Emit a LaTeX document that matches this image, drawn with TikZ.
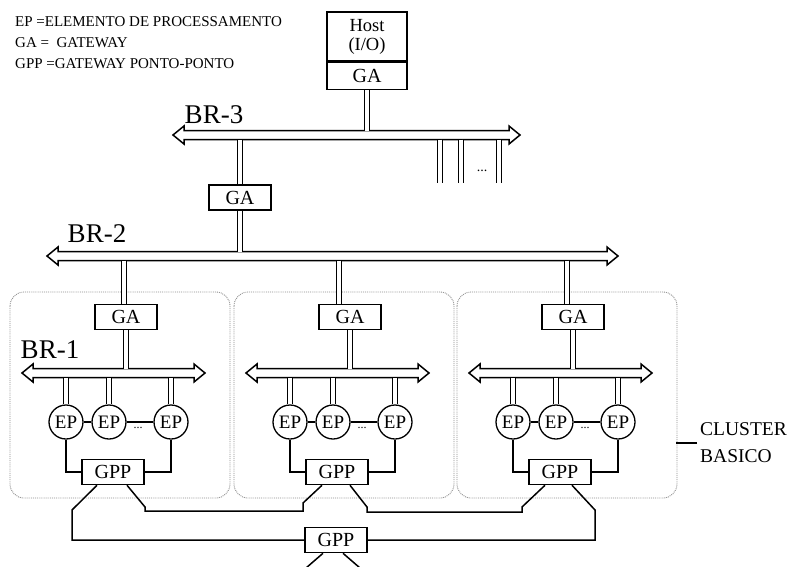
\documentclass[tikz,border=0pt]{standalone}
\usepackage{fontspec}
\setmainfont{Liberation Serif}
\usetikzlibrary{positioning}
% horizontal bus with an open arrowhead at both ends: {x left}{x right}{y}
\newcommand{\busbar}[3]{\draw[bar] (#1,#3) -- ({#1+11},{#3-9}) -- ({#1+11},{#3-4.5}) -- ({#2-11},{#3-4.5}) -- ({#2-11},{#3-9}) -- (#2,#3)
  -- ({#2-11},{#3+9}) -- ({#2-11},{#3+4.5}) -- ({#1+11},{#3+4.5}) -- ({#1+11},{#3+9}) -- cycle;}

\begin{document}
\begin{tikzpicture}[x=1pt,y=-1pt,
  bx/.style={rectangle,draw,line width=1.5pt,minimum width=62pt,minimum height=25pt,inner sep=0pt,font=\fontsize{20}{20}\selectfont},
  ep/.style={circle,draw,line width=1.3pt,minimum size=34pt,inner sep=0pt,font=\fontsize{19}{19}\selectfont},
  link/.style={draw,double,line width=1.3pt,double distance=3.2pt},
  wire/.style={draw,line width=1.5pt},
  bar/.style={line width=1.5pt,line join=miter},
  clu/.style={draw=black!45,densely dotted,line width=0.9pt,rounded corners=14pt},
  lbl/.style={font=\fontsize{27}{27}\selectfont,inner sep=0pt},
  leg/.style={anchor=base west,inner sep=0pt,font=\fontsize{15}{15}\selectfont}]
  \useasboundingbox (0,0) rectangle (790,566);
  % legend
  \node[leg] (leg1) at (15,26) {EP =ELEMENTO DE PROCESSAMENTO};
  \node[leg] (leg2) at (15,47) {GA =\ \ GATEWAY};
  \node[leg] (leg3) at (15,68) {GPP =GATEWAY PONTO-PONTO};
  % host
  \node[bx,minimum width=80pt,minimum height=49pt,align=center,font=\fontsize{18.5}{19}\selectfont] (host) at (367,36.5) {Host\\(I/O)};
  \node[bx,minimum width=80pt,minimum height=27pt,below=0pt of host] (hga) {GA};
  % buses
  \coordinate (br3t) at (0,130.5);
  \coordinate (br3b) at (0,139.5);
  \coordinate (br2t) at (0,251.5);
  \coordinate (br1t) at (0,368.5);
  \coordinate (br1b) at (0,377.5);
  \busbar{173}{520}{135}
  \busbar{47}{618}{256}
  \node[lbl] (br3) at (214,115) {BR-3};
  \node[lbl] (br2) at (97,234) {BR-2};
  \node[lbl] (br1) at (50,350) {BR-1};
  \draw[link] (hga.south) -- (hga.south |- br3t);
  \node[bx] (ga0) at (240,197.5) {GA};
  \draw[link] (ga0.north) -- (ga0.north |- br3b);
  \draw[link] (ga0.south) -- (ga0.south |- br2t);
  \foreach \d/\n in {440/1,461/2,499/3}{
    \coordinate (s\n) at (\d,183);
    \draw[link] (s\n |- br3b) -- (s\n);
  }
  \node[font=\fontsize{14}{14}\selectfont] (more) at (482,171) {...};
  % basic clusters
  \foreach \x/\u/\i in {126/124/1,350/339/2,573/567/3}{
    \draw[clu] (\x-116,292) rectangle (\x+104,498);
    \node[bx] (ga\i) at (\x,317) {GA};
    \coordinate (up\i) at (\u,260.5);
    \draw[link] (up\i) -- (up\i |- ga\i.north);
    \busbar{\x-104}{\x+79}{373}
    \draw[link] (ga\i.south) -- (ga\i.south |- br1t);
    \node[ep] (epa\i) at (\x-60,422) {EP};
    \node[ep] (epb\i) at (\x-17,422) {EP};
    \node[ep] (epc\i) at (\x+45,422) {EP};
    \foreach \e in {epa,epb,epc}
      \draw[link] (\e\i.north) -- (\e\i.north |- br1b);
    \draw[wire] (epa\i) -- (epb\i);
    \draw[wire] (epb\i) -- (epc\i);
    \node[font=\fontsize{12}{12}\selectfont] (dots\i) at (\x+12,428) {...};
    \node[bx] (gpp\i) at (\x-13,472) {GPP};
    \draw[wire] (epa\i.south) |- (gpp\i.west);
    \draw[wire] (epc\i.south) |- (gpp\i.east);
  }
  \node[anchor=west,align=left,inner sep=0pt,font=\fontsize{19.5}{27}\selectfont] (cb) at (700,443) {CLUSTER\\BASICO};
  \draw[line width=1.3pt] ([xshift=-3pt]cb.west) -- ++(-21,0);
  % point-to-point gateways
  \node[bx] (gppb) at (336,540) {GPP};
  \coordinate (outl) at (306,568);
  \coordinate (outr) at (360,568);
  \draw[wire] ([xshift=-16pt]gpp1.south) -- (72,510) |- (gppb.west);
  \draw[wire] ([xshift=14pt]gpp1.south) -- (145,507) -- (145,511) -- (303,511) -- (303,503) -- ([xshift=-15pt]gpp2.south);
  \draw[wire] ([xshift=13pt]gpp2.south) -- (367,507) -- (367,512) -- (522,512) -- (522,507) -- ([xshift=-15pt]gpp3.south);
  \draw[wire] ([xshift=12pt]gpp3.south) -- (595,510) |- (gppb.east);
  \draw[wire] ([xshift=-13pt]gppb.south) -- (outl);
  \draw[wire] ([xshift=7pt]gppb.south) -- (outr);
\end{tikzpicture}
\end{document}
